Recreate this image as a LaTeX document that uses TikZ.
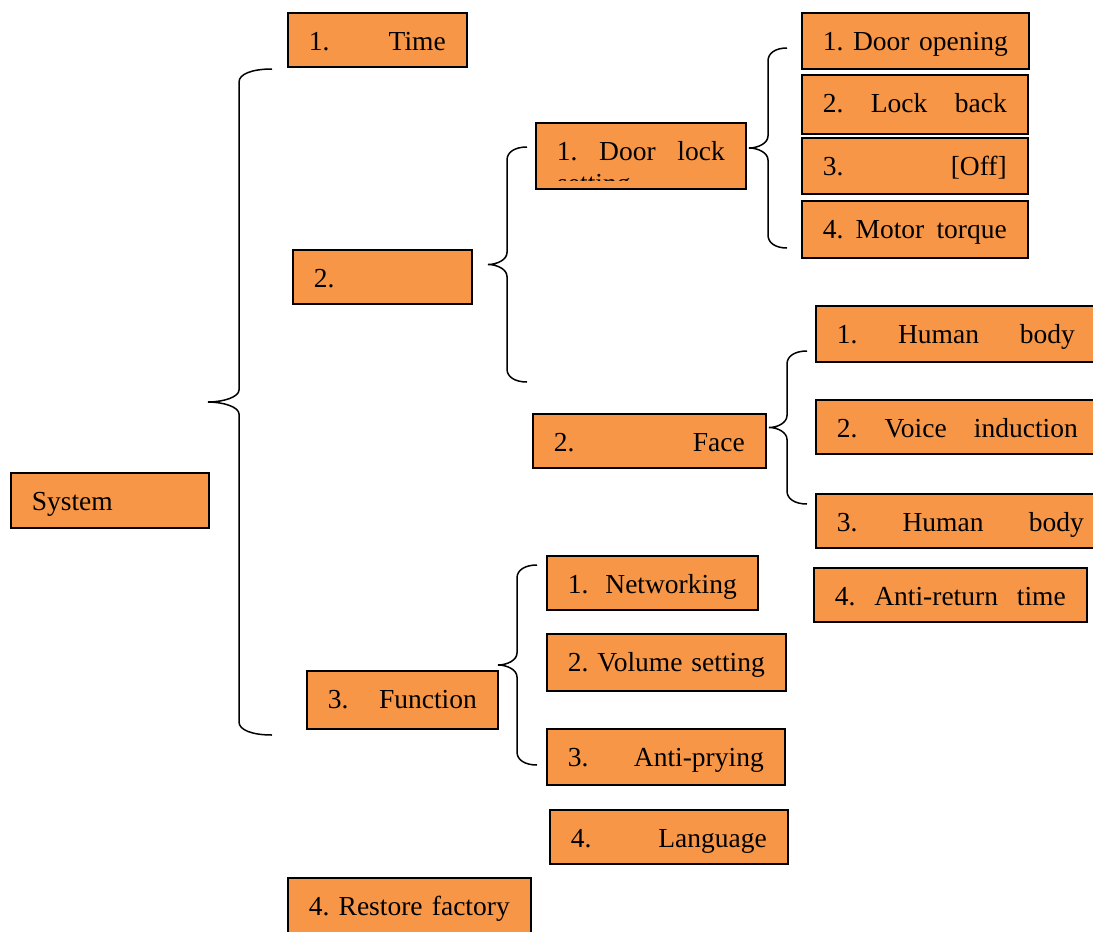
\documentclass[tikz,border=0pt]{standalone}
\usepackage{fontspec}
\setmainfont{Liberation Serif}
\definecolor{boxorange}{HTML}{F79646}
\tikzset{
  box/.style={draw=black, fill=boxorange, line width=1.6pt, inner xsep=21pt, inner ysep=0pt,
    text height=38pt, anchor=north west, font=\fontsize{27.5}{33}\selectfont},
  brace/.style={draw=black, line width=1.5pt},
  boxtext/.style={inner sep=0pt, anchor=base west, font=\fontsize{27.5}{33}\selectfont},
}
% name, x, y, text width, height, depth, content
\newcommand\bx[7]{\node[box, minimum height=#5pt, text depth=#6pt] (#1) at (#2,#3) {\makebox[#4pt]{#7}};}
% end x, vertical x, tip x, top y, bottom y
\newcommand\cbrace[5]{%
  \pgfmathsetmacro\ym{(#4+#5)/2}%
  \pgfmathsetmacro\ea{#2+0.4*(#1-#2)}%
  \pgfmathsetmacro\ta{#3+0.5*(#2-#3)}%
  \draw[brace] (#1,#4) .. controls (\ea,#4) and (#2,{#4+5}) .. (#2,{#4+13})
    -- (#2,{\ym-12}) .. controls (#2,{\ym-5}) and (\ta,\ym) .. (#3,\ym)
    .. controls (\ta,\ym) and (#2,{\ym+5}) .. (#2,{\ym+12})
    -- (#2,{#5-13}) .. controls (#2,{#5-5}) and (\ea,#5) .. (#1,#5);}
\begin{document}
\begin{tikzpicture}[x=1pt,y=-1pt]
\useasboundingbox (0,0) rectangle (1093,932);
\clip (0,0) rectangle (1093,932);
\fill[white] (0,0) rectangle (1093,932);

% level 0
\bx{sys}{10}{472}{156}{55}{17}{System\hfill}
% level 1
\bx{time}{287}{12}{137}{54}{16}{1.\hfill Time}
\bx{two}{292}{249}{137}{54}{16}{2.\hfill}
\bx{fun}{306}{670}{149}{58}{20}{3.\hfill Function}
\bx{rest}{287}{877}{201}{62}{24}{4.\hfill Restore\hfill factory}
% level 2
\bx{dls}{535}{122}{168}{66}{28}{1.\hfill Door\hfill lock}
\begin{scope}
\clip (537,124) rectangle (743,180);
\node[boxtext] (dlsline) at (557,192) {setting};
\end{scope}
\bx{face}{532}{413}{191}{54}{16}{2.\hfill Face}
\bx{net}{546}{555}{169}{54}{16}{1.\hfill Networking}
\bx{vol}{546}{633}{197}{57}{19}{2.\hfill Volume\hfill setting}
\bx{ap}{546}{728}{196}{56}{18}{3.\hfill Anti-prying}
\bx{lang}{549}{809}{196}{54}{16}{4.\hfill Language}
% level 3
\bx{dop}{801}{12}{185}{56}{18}{1.\hfill Door\hfill opening}
\bx{lb}{801}{74}{184}{59}{21}{2.\hfill Lock\hfill back}
\bx{off}{801}{137}{184}{56}{18}{3.\hfill [Off]}
\bx{mt}{801}{200}{184}{57}{19}{4.\hfill Motor\hfill torque}
\bx{hb1}{815}{305}{238}{56}{18}{1.\hfill Human\hfill body}
\bx{vi}{815}{399}{241}{54}{16}{2.\hfill Voice\hfill induction}
\bx{hb3}{815}{493}{247}{54}{16}{3.\hfill Human\hfill body}
\bx{art}{813}{567}{231}{54}{16}{4.\hfill Anti-return\hfill time}

% braces
\cbrace{272}{239}{208}{69}{735}
\cbrace{527}{507}{488}{147}{382}
\cbrace{787}{768}{749}{48}{248}
\cbrace{807}{787}{769}{351}{504}
\cbrace{537}{517}{498}{565}{765}
\end{tikzpicture}
\end{document}
